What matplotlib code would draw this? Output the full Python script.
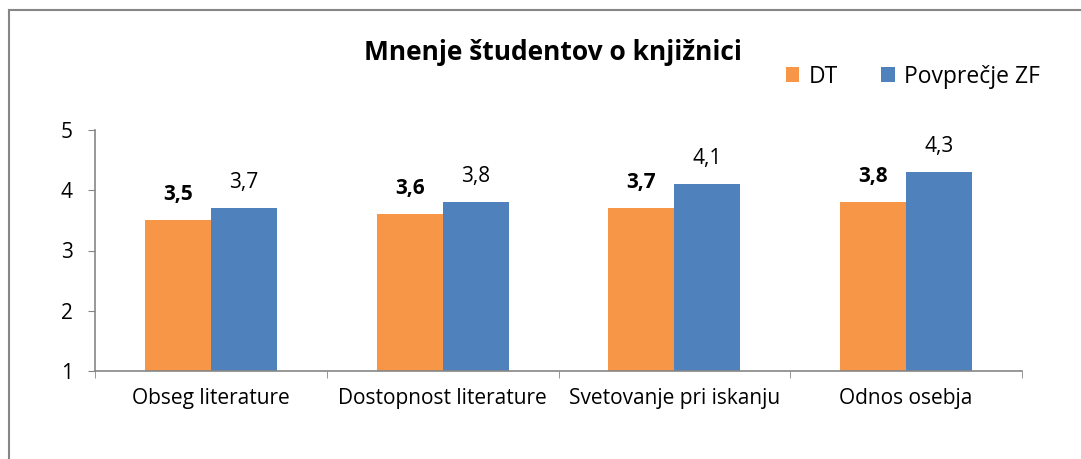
import numpy as np
from matplotlib import pyplot as plt
from matplotlib.lines import Line2D

categories = ["Obseg literature", "Dostopnost literature", "Svetovanje pri iskanju", "Odnos osebja"]
dt_values = [3.5, 3.6, 3.7, 3.8]
zf_values = [3.7, 3.8, 4.1, 4.3]
series_names = ["DT", "Povprečje ZF"]
y_ticks = [1, 2, 3, 4, 5]

orange = "#F79646"
blue = "#4F81BD"
plt.rcParams['font.family'] = ['Open Sans', 'DejaVu Sans']

fig = plt.figure(figsize=(10.81, 4.59), dpi=100)
ax = fig.add_axes([95/1081, 1 - 371/459, (1022-95)/1081, (371-130)/459])

x = np.arange(len(categories))
w = 0.285
b1 = ax.bar(x - w/2, np.array(dt_values) - 1, w, bottom=1, color=orange, label=series_names[0])
b2 = ax.bar(x + w/2, np.array(zf_values) - 1, w, bottom=1, color=blue, label=series_names[1])

for xi, v in zip(x, dt_values):
    ax.annotate(f"{v:.1f}".replace(".", ","), (xi - w/2, v), xytext=(0, 11), textcoords="offset points",
                ha="center", va="bottom", fontsize=15, fontweight="bold", color="black")
for xi, v in zip(x, zf_values):
    ax.annotate(f"{v:.1f}".replace(".", ","), (xi + w/2, v), xytext=(0, 11), textcoords="offset points",
                ha="center", va="bottom", fontsize=15, color="black")

ax.set_xlim(-0.5, len(categories) - 0.5)
ax.set_ylim(1, 5)
ax.set_yticks(y_ticks)
ax.set_yticklabels([str(t) for t in y_ticks], fontsize=15)
ax.tick_params(axis="y", length=5, color="#868686", pad=11)
ax.set_xticks(x)
ax.set_xticklabels(categories, fontsize=15)
ax.tick_params(axis="x", length=0, pad=12)
# category boundary ticks
ax.set_xticks(np.arange(len(categories) + 1) - 0.5, minor=True)
ax.tick_params(axis="x", which="minor", length=5, color="#868686", direction="out")

for s in ["top", "right"]:
    ax.spines[s].set_visible(False)
for s in ["left", "bottom"]:
    ax.spines[s].set_color("#868686")
    ax.spines[s].set_linewidth(1.2)

fig.text(553/1081, 1 - 52/459, "Mnenje študentov o knjižnici", ha="center", va="center",
         fontsize=19, fontweight="bold")

ax.legend(loc="upper left", bbox_to_anchor=(765/1081, 1 - 44/459), bbox_transform=fig.transFigure,
          ncol=2, frameon=False, fontsize=16.5, handlelength=0.6, handleheight=0.6,
          handletextpad=0.4, columnspacing=1.9)

# outer frame (left and top edges visible)
fig.add_artist(Line2D([9/1081, 9/1081], [0, 1 - 10/459], transform=fig.transFigure, color="#868686", lw=1.5))
fig.add_artist(Line2D([9/1081, 1], [1 - 10/459, 1 - 10/459], transform=fig.transFigure, color="#868686", lw=1.5))

fig.savefig("out.png", dpi=100)
